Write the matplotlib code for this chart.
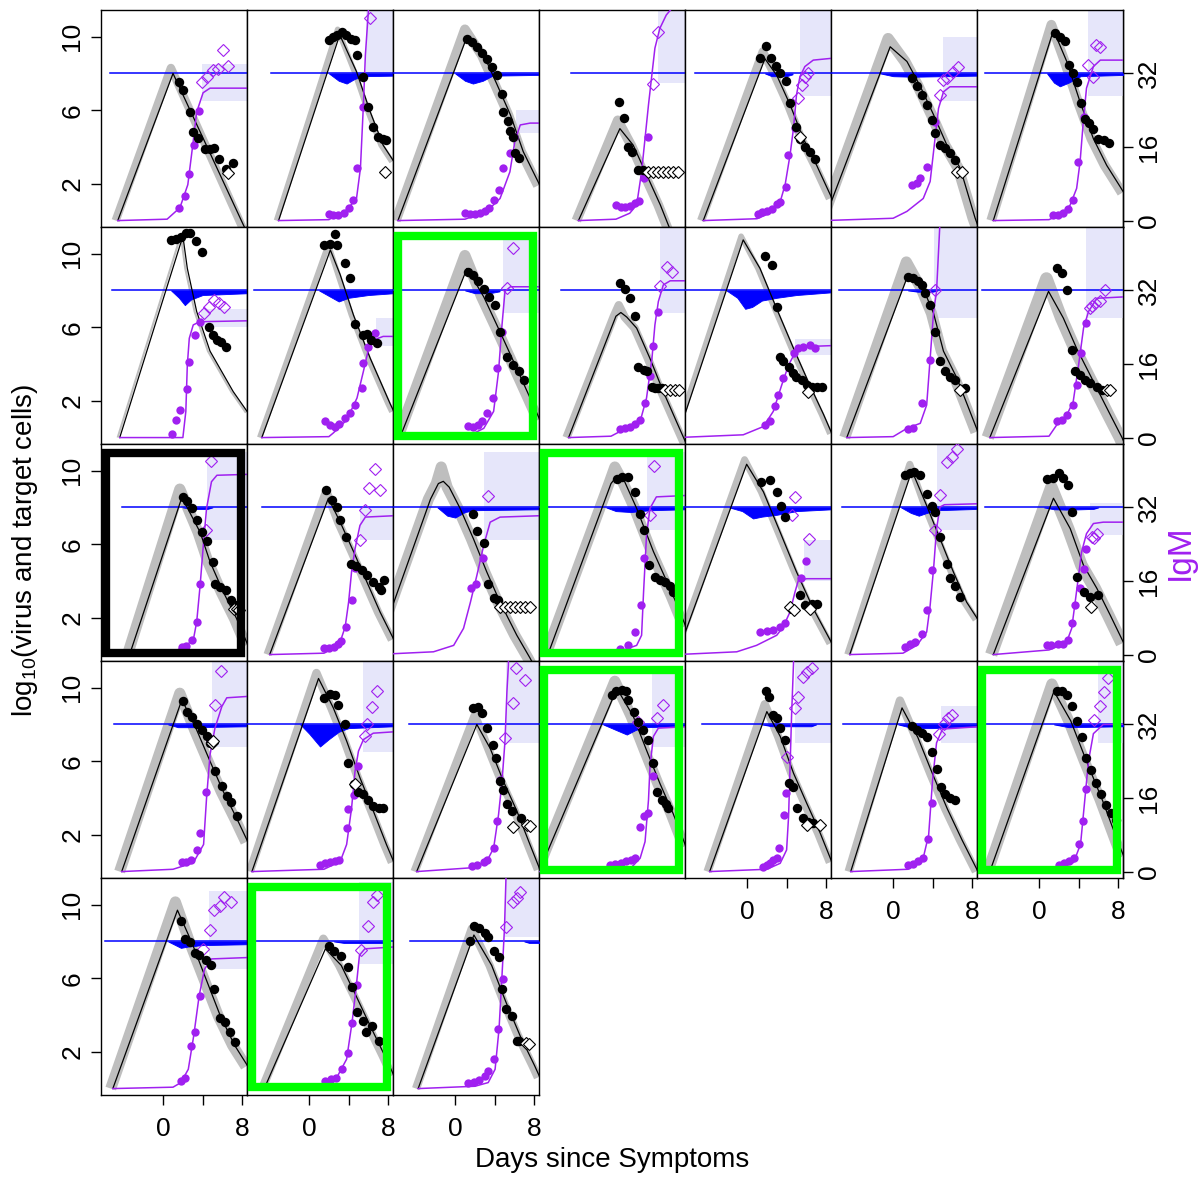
import matplotlib
matplotlib.use("Agg")
import matplotlib.pyplot as plt
import matplotlib.transforms as mtransforms
from matplotlib.patches import Rectangle

plt.rcParams["font.family"] = ["Liberation Sans", "DejaVu Sans"]

# ---------------------------------------------------------------- layout
FIG_W, FIG_H = 1198, 1178
GRID_LEFT, GRID_TOP = 101, 10
PANEL_W, PANEL_H = 146, 217
N_COLS = 7
XLIM = (-6.3, 8.5)
YLIM = (-0.35, 11.45)
IGM_PER_LOG = 4.0          # right axis: IgM units per log10 unit
TARGET_LEVEL = 8.0         # log10 target cells at start

GRAY = "#BEBEBE"
BLUE = "#0000FF"
PURPLE = "#A020F0"
LAVENDER = "#E6E6FA"
GREEN = "#00FF00"

X_TICKS = [0, 4, 8]
X_TICK_LABELS = ["0", "", "8"]
Y_TICKS = [2, 6, 10]
IGM_TICKS = [0, 16, 32]

# ---------------------------------------------------------------- data
# best-fit log10 viral load trajectory (day, log10)
VIRUS_CURVE = [
    [(-4.6, 0), (1.0, 8.0), (8.1, -0.2), (8.8, -1.0)],
    [(-3.1, 0), (3.1, 10.1), (4.8, 8.1), (6.2, 5.9), (7.5, 4.1), (8.6, 3.2)],
    [(-5.8, 0), (1.2, 10.0), (2.9, 9.0), (4.2, 7.45), (5.6, 5.75), (6.9, 3.75), (8.6, 1.9)],
    [(-2.3, 0), (1.9, 5.0), (3.25, 4.1), (4.6, 2.5), (6.0, 0.85), (7.0, -0.5)],
    [(-4.45, 0), (1.8, 8.8), (3.0, 7.9), (4.35, 6.3), (5.7, 4.45), (7.05, 3.0), (8.6, 1.2)],
    [(-7.0, 0), (-0.3, 9.45), (1.4, 8.65), (2.7, 7.35), (4.1, 5.75), (5.45, 4.1), (6.8, 2.85), (8.3, 0.15), (8.8, -0.6)],
    [(-4.65, 0), (1.45, 10.35), (2.8, 8.65), (4.15, 6.45), (5.5, 4.45), (6.85, 3.0), (8.2, 1.85), (8.6, 1.5)],
    [(-4.4, 0), (2.0, 10.95), (2.45, 9.2), (3.4, 6.85), (4.75, 4.7), (7.1, 2.5), (8.6, 1.35)],
    [(-4.8, 0), (2.15, 10.2), (3.15, 8.85), (4.5, 6.65), (6.2, 4.3), (8.2, 1.85), (8.6, 1.4)],
    [(-5.6, 0), (1.2, 9.2), (2.9, 7.65), (4.55, 5.75), (6.25, 3.75), (7.6, 2.15), (8.6, 0.95)],
    [(-3.3, 0), (1.5, 6.6), (2.0, 6.8), (2.6, 6.55), (3.6, 5.95), (4.95, 4.3), (6.3, 2.5), (7.65, 0.85), (8.6, -0.3)],
    [(-7.1, 0), (-0.4, 10.75), (1.3, 9.2), (3.0, 7.0), (4.7, 4.85), (6.35, 2.85), (7.75, 1.25), (8.6, 0.2)],
    [(-4.7, 0), (1.55, 8.9), (3.05, 8.1), (4.1, 6.75), (5.1, 4.7), (6.45, 3.25), (7.8, 1.4), (8.6, 0.3)],
    [(-5.0, 0), (0.95, 7.95), (2.45, 6.5), (3.8, 4.85), (5.5, 3.05), (7.2, 1.25), (8.4, 0), (8.8, -0.5)],
    [(-3.4, 0), (1.9, 8.55), (3.75, 6.65), (4.75, 5.05), (6.1, 3.4), (7.45, 1.95), (8.6, 0.5)],
    [(-4.0, 0), (1.95, 8.5), (3.15, 7.2), (4.5, 5.6), (5.85, 3.95), (7.2, 2.3), (8.6, 0.8)],
    [(-8.1, 0), (-2.5, 8.45), (-1.7, 9.3), (-1.2, 9.42), (-0.6, 9.1), (0.5, 7.95), (1.85, 6.3), (3.2, 4.5), (4.55, 2.85), (6.25, 1.05), (7.6, -0.2), (8.0, -0.6)],
    [(-5.4, 0), (1.0, 9.3), (1.6, 9.7), (2.3, 9.5), (3.6, 7.95), (5.3, 5.6), (7.3, 3.2), (8.6, 1.5)],
    [(-7.1, 0), (-0.05, 10.35), (1.65, 8.85), (3.35, 6.65), (5.0, 4.5), (6.7, 2.5), (8.6, 0.6)],
    [(-4.4, 0), (1.9, 10.0), (3.4, 8.1), (4.75, 6.3), (6.1, 4.5), (7.45, 2.85), (8.6, 1.9)],
    [(-4.65, 0), (1.45, 8.5), (3.15, 6.85), (4.5, 4.85), (5.85, 3.6), (7.2, 2.15), (8.6, 0.6)],
    [(-4.2, 0), (1.9, 9.35), (3.4, 7.7), (4.75, 6.0), (6.1, 4.35), (7.45, 2.9), (8.6, 1.6)],
    [(-5.8, 0), (0.95, 10.5), (2.45, 8.9), (3.8, 7.1), (5.15, 5.1), (6.5, 3.3), (7.85, 1.45), (8.6, 0.5)],
    [(-3.9, 0), (2.2, 8.0), (3.55, 6.7), (4.9, 4.9), (6.25, 3.3), (7.6, 1.45), (8.6, 0.1)],
    [(-6.3, 0), (1.6, 9.95), (3.25, 8.45), (4.6, 6.6), (5.95, 4.8), (7.3, 3.15), (8.6, 1.35)],
    [(-3.8, 0), (2.0, 8.7), (3.35, 7.35), (4.7, 5.35), (6.05, 3.7), (7.4, 2.1), (8.6, 0.5)],
    [(-4.3, 0), (0.9, 8.9), (2.5, 7.3), (4.0, 5.3), (5.5, 3.4), (7.0, 1.7), (8.6, 0.0)],
    [(-5.0, 0), (1.5, 9.8), (3.2, 8.2), (4.8, 6.0), (6.4, 3.9), (8.0, 1.6), (8.6, 0.8)],
    [(-5.1, 0), (1.45, 9.7), (2.9, 7.95), (4.35, 5.95), (5.8, 3.95), (7.25, 2.35), (8.6, 1.2)],
    [(-4.55, 0), (1.65, 7.6), (3.25, 6.7), (4.75, 5.05), (6.2, 3.4), (7.65, 1.8), (8.6, 0.7)],
    [(-3.75, 0), (1.9, 8.35), (3.7, 6.7), (5.15, 4.7), (6.6, 2.85), (8.05, 1.25), (8.6, 0.6)],
]

# top of the posterior viral-load envelope and its spread (points)
GRAY_PEAK = [8.3, 10.4, 10.4, 5.45, 9.2, 9.9, 10.65,
             11.0, 10.5, 9.9, 7.2, 10.95, 9.55, 8.65,
             9.0, 8.9, 10.2, 10.2, 10.6, 10.35, 9.1,
             9.7, 10.8, 8.5, 10.35, 9.1, 9.3, 10.2,
             10.15, 8.15, 8.7]
GRAY_WIDTH = [6, 4, 7, 7, 6, 8, 7,
              1.5, 4, 8, 6, 4, 8, 9,
              8, 6, 8, 8, 5, 5, 9,
              8, 6, 6, 8, 6, 6, 8,
              8, 6, 6]

# observed log10 viral load
VIRUS_DATA = [
    [(1.6, 7.55), (2.05, 7.1), (2.7, 5.9), (3.0, 4.8), (3.5, 4.5), (4.25, 3.9), (4.75, 3.9), (5.15, 3.95), (5.65, 3.35), (6.4, 2.8), (7.1, 3.15)],
    [(2.05, 9.8), (2.45, 10.0), (2.85, 10.1), (3.3, 10.25), (3.75, 10.1), (4.2, 9.9), (4.65, 9.8), (4.85, 9.0), (5.5, 7.8), (6.0, 6.2), (6.5, 5.1), (7.0, 4.55), (7.45, 4.45), (7.8, 4.4)],
    [(1.2, 9.9), (1.7, 9.7), (2.2, 9.45), (2.7, 9.1), (3.2, 8.8), (3.7, 8.35), (4.2, 7.9), (4.7, 6.9), (4.9, 5.9), (5.4, 5.4), (5.55, 4.85), (5.85, 4.55), (6.05, 3.65), (6.5, 3.4)],
    [(1.85, 6.45), (2.3, 5.6), (2.75, 4.0), (3.1, 3.75), (3.75, 2.75), (4.2, 2.75)],
    [(1.3, 8.85), (1.9, 9.5), (2.4, 8.85), (2.95, 8.4), (3.35, 8.0), (3.95, 7.6), (4.3, 6.4), (4.95, 5.1), (5.35, 4.45), (5.85, 4.0), (6.35, 3.75), (6.9, 3.35)],
    [(1.9, 7.75), (2.4, 7.3), (2.9, 6.85), (3.4, 6.3), (3.9, 5.45), (4.25, 4.75), (4.75, 4.1), (5.25, 3.95), (5.75, 3.65), (6.3, 3.3)],
    [(1.6, 10.2), (2.1, 10.0), (2.6, 9.75), (3.05, 8.45), (3.45, 8.0), (3.8, 7.55), (4.2, 6.4), (4.65, 5.55), (5.1, 5.3), (5.5, 5.0), (6.0, 4.45), (6.6, 4.4), (7.1, 4.2)],
    [(0.8, 10.75), (1.3, 10.8), (1.8, 10.9), (2.3, 11.1), (2.75, 11.15), (3.3, 10.7), (3.9, 10.1), (4.6, 6.0), (5.1, 5.6), (5.45, 5.3), (5.85, 5.2), (6.4, 4.95)],
    [(1.5, 10.45), (2.15, 10.55), (2.65, 11.05), (2.85, 10.45), (3.65, 9.5), (4.15, 8.65), (4.65, 6.2), (5.5, 5.6), (5.85, 5.65), (6.25, 5.3), (6.85, 5.15)],
    [(1.35, 9.0), (1.8, 8.85), (2.35, 8.5), (2.9, 8.1), (3.4, 7.65), (4.05, 7.2), (4.55, 5.75), (5.25, 4.4), (5.9, 3.95), (6.45, 3.6), (6.95, 3.15)],
    [(1.95, 8.4), (2.4, 8.1), (2.95, 7.6), (3.45, 6.6), (3.75, 3.85), (4.3, 3.7), (4.6, 3.6), (5.15, 2.75), (5.45, 2.7), (5.8, 2.7), (6.15, 2.7)],
    [(1.8, 9.9), (2.5, 9.4), (3.0, 7.1), (3.35, 4.4), (3.65, 4.15), (4.2, 3.85), (4.6, 3.5), (5.0, 3.3), (5.55, 3.15), (6.05, 2.85), (6.55, 2.75), (7.05, 2.75), (7.55, 2.75)],
    [(1.55, 8.75), (2.05, 8.65), (2.55, 8.5), (2.9, 8.3), (3.25, 7.85), (3.75, 7.2), (4.25, 5.75), (4.75, 4.15), (5.25, 3.6), (5.75, 3.3), (6.3, 3.15), (7.3, 2.7)],
    [(1.8, 9.2), (2.3, 8.95), (2.8, 8.05), (3.3, 4.75), (3.65, 3.6), (4.15, 3.4), (4.65, 3.15), (5.15, 2.95), (5.85, 2.75), (6.35, 2.6)],
    [(2.05, 8.55), (2.45, 8.35), (2.9, 7.95), (3.4, 7.3), (3.9, 6.65), (4.4, 6.2), (5.05, 5.05), (5.25, 3.85), (5.75, 3.7), (6.4, 3.5), (6.85, 2.95), (7.3, 2.7)],
    [(1.7, 8.95), (2.3, 8.4), (2.8, 8.05), (3.15, 7.3), (3.7, 6.4), (4.2, 4.95), (4.75, 4.8), (5.35, 4.6), (5.85, 4.3), (6.45, 3.95), (7.05, 3.7), (7.25, 3.5), (7.55, 4.05)],
    [(1.8, 7.65), (2.25, 6.7), (2.9, 6.05), (3.3, 3.85), (3.9, 3.05), (4.3, 2.95)],
    [(1.6, 9.55), (2.1, 9.65), (2.75, 9.65), (3.45, 8.85), (3.95, 7.65), (4.3, 6.75), (4.9, 4.85), (5.45, 4.2), (5.95, 4.05), (6.5, 3.95), (7.0, 3.75), (7.25, 3.4)],
    [(1.45, 9.4), (2.3, 9.5), (3.0, 8.85), (3.4, 8.1), (3.85, 7.5), (5.35, 3.25), (5.85, 2.7), (6.55, 2.75), (7.05, 2.75)],
    [(1.2, 9.75), (1.7, 9.85), (2.1, 9.95), (2.75, 9.75), (3.4, 8.75), (3.9, 8.1), (4.25, 7.75), (4.75, 6.4), (5.45, 4.95), (5.75, 4.15), (6.3, 3.75), (6.8, 3.15)],
    [(0.75, 9.55), (1.45, 9.6), (2.05, 9.85), (2.45, 9.6), (2.95, 9.2), (3.3, 7.75), (3.8, 4.2), (4.5, 3.4), (5.15, 3.15), (6.0, 3.25)],
    [(2.05, 9.3), (2.45, 8.7), (2.9, 8.4), (3.4, 8.0), (3.9, 7.7), (4.4, 7.35), (4.75, 7.0), (5.25, 5.45), (5.95, 4.65), (6.45, 4.1), (6.85, 3.8), (7.45, 3.0)],
    [(1.5, 9.45), (2.15, 9.65), (2.65, 9.6), (2.95, 9.05), (3.65, 8.0), (3.9, 5.9), (4.55, 4.75), (5.0, 4.35), (5.5, 4.2), (6.0, 3.9), (6.5, 3.55), (7.05, 3.45), (7.45, 3.45)],
    [(1.85, 8.9), (2.35, 8.95), (2.7, 8.6), (3.2, 7.8), (3.8, 6.9), (4.15, 6.2), (4.55, 4.9), (4.9, 4.45), (5.25, 3.65), (5.75, 3.3), (6.65, 2.9)],
    [(1.05, 9.6), (1.5, 9.8), (2.1, 9.85), (2.5, 9.8), (2.75, 9.35), (3.35, 8.7), (3.75, 8.15), (4.2, 7.7), (4.7, 7.15), (5.3, 5.9), (5.65, 4.35), (6.15, 3.9), (6.6, 3.65), (6.8, 3.45)],
    [(1.9, 9.8), (2.25, 9.5), (2.65, 8.5), (3.05, 8.35), (3.35, 7.8), (3.85, 7.15), (4.2, 4.8), (4.65, 4.6), (5.05, 3.45), (5.7, 2.9), (6.2, 2.7), (6.7, 2.65)],
    [(1.9, 7.9), (2.4, 7.7), (2.9, 7.55), (3.4, 7.3), (3.9, 6.5), (4.4, 5.6), (4.9, 4.6), (5.3, 4.2), (5.8, 4.0), (6.3, 3.9)],
    [(1.8, 9.8), (2.3, 9.8), (2.8, 9.6), (3.3, 9.0), (3.8, 8.2), (4.3, 7.3), (4.8, 6.2), (5.3, 5.5), (5.8, 4.8), (6.3, 4.2), (6.8, 3.6), (7.3, 3.2), (7.8, 2.8)],
    [(1.8, 9.1), (2.2, 8.15), (2.75, 7.95), (3.2, 7.35), (3.65, 7.25), (4.3, 7.0), (4.8, 6.7), (5.2, 5.4), (5.8, 3.85), (6.25, 3.6), (6.75, 3.05), (7.25, 2.55)],
    [(2.0, 7.75), (2.55, 7.5), (3.25, 7.2), (3.95, 6.6), (4.35, 5.5), (4.9, 4.15), (5.45, 3.7), (5.8, 3.05), (6.35, 3.4), (7.1, 2.6)],
    [(1.5, 8.05), (1.9, 8.85), (2.45, 8.75), (3.0, 8.45), (3.35, 8.25), (3.9, 7.5), (4.45, 7.15), (4.75, 5.4), (5.15, 4.35), (5.8, 3.95), (6.25, 2.6), (6.5, 2.6)],
]

# viral load samples below the detection limit
VIRUS_CENSORED = [
    [(6.6, 2.6)], [(7.7, 2.65)], [],
    [(4.8, 2.65), (5.3, 2.65), (5.8, 2.65), (6.3, 2.65), (6.8, 2.65), (7.3, 2.65), (7.8, 2.65)],
    [(5.4, 4.55)], [(6.45, 2.65), (6.95, 2.65)], [],
    [], [], [], [(6.5, 2.6), (7.0, 2.6), (7.5, 2.6), (7.85, 2.6)], [(6.2, 2.5)], [(6.8, 2.6)], [(6.85, 2.6), (7.2, 2.6)],
    [(7.15, 2.5), (7.45, 2.5), (7.7, 2.4)], [],
    [(4.55, 2.6), (5.05, 2.6), (5.55, 2.6), (6.1, 2.6), (6.6, 2.6), (7.1, 2.6), (7.6, 2.6)],
    [], [(4.35, 2.6), (4.7, 2.4), (6.35, 2.5)], [], [(5.25, 2.6)],
    [(4.95, 7.0), (5.1, 7.1)], [(4.65, 4.75)], [(5.9, 2.45), (7.25, 2.55), (7.6, 2.5)], [], [(6.05, 2.55), (7.4, 2.55)], [], [],
    [], [], [(7.15, 2.5), (7.5, 2.45)],
]

# envelope of target-cell depletion below the starting level (day, log10)
TARGET_DIP = [
    [], [(2.0, 8), (3.0, 7.6), (3.8, 7.45), (4.6, 7.7), (5.5, 7.85), (8.6, 7.88)],
    [(0, 8), (1.0, 7.6), (1.8, 7.45), (2.8, 7.6), (3.8, 7.88), (8.6, 7.92)], [],
    [(1.8, 8), (2.5, 7.85), (4.0, 7.85), (4.6, 7.95)],
    [(-1.3, 8), (0, 7.85), (2, 7.82), (5, 7.85), (8.6, 7.88)],
    [(0.8, 8), (1.5, 7.5), (2.1, 7.3), (3.0, 7.5), (4.2, 7.85), (8.6, 7.92)],
    [(0.8, 8), (1.6, 7.6), (2.2, 7.2), (2.8, 7.5), (4.0, 7.75), (8.6, 7.85)],
    [(1.0, 8), (2.0, 7.7), (3.0, 7.4), (4.0, 7.6), (6.0, 7.75), (8.6, 7.85)],
    [(1.0, 8), (2.0, 7.85), (3.5, 7.85), (4.5, 7.95)], [],
    [(-2.1, 8), (-1.0, 7.6), (-0.2, 7.0), (0.5, 7.1), (1.5, 7.45), (3.0, 7.6), (5.0, 7.75), (8.6, 7.9)],
    [(1.5, 8), (2.5, 7.93), (4.0, 7.93), (4.5, 8)], [],
    [(2.0, 8), (3.0, 7.92), (4.5, 7.92), (5.0, 8)], [],
    [(-1.8, 8), (-0.8, 7.55), (0, 7.45), (1.0, 7.75), (2.0, 7.85), (8.6, 7.9)],
    [(0.5, 8), (1.5, 7.8), (3.0, 7.75), (5.0, 7.85), (8.6, 7.9)],
    [(-1.8, 8), (-0.5, 7.8), (0.6, 7.4), (1.5, 7.5), (3.0, 7.6), (5.0, 7.8), (8.6, 7.9)],
    [(0.8, 8), (1.8, 7.7), (2.6, 7.55), (3.4, 7.7), (4.5, 7.85), (8.6, 7.92)],
    [(0.5, 8), (1.5, 7.9), (3.0, 7.88), (5.5, 7.92), (6.0, 8)],
    [(0.5, 8), (1.5, 7.85), (3.0, 7.85), (8.6, 7.9)],
    [(-0.9, 8), (0, 7.5), (1.1, 6.8), (2.0, 7.2), (3.0, 7.6), (4.0, 7.8), (8.6, 7.9)], [],
    [(0.2, 8), (1.5, 7.7), (2.6, 7.45), (3.5, 7.7), (4.5, 7.85), (8.6, 7.92)],
    [(1.5, 8), (2.5, 7.9), (6.5, 7.9), (7.0, 8)],
    [(0.5, 8), (2.0, 7.8), (4.0, 7.8), (8.6, 7.9)],
    [(1.5, 8), (3.0, 7.85), (8.6, 7.9)],
    [(0.5, 8), (1.8, 7.65), (2.5, 7.72), (4.0, 7.8), (8.6, 7.85)],
    [(2.5, 8), (3.5, 7.92), (7.5, 7.92), (8.0, 8)],
    [(7.0, 8), (7.5, 7.92), (8.6, 7.92)],
]

# best-fit IgM trajectory (day, IgM)
IGM_CURVE = [
    [(-4.6, 0), (0.4, 0.3), (1.7, 2.8), (2.5, 7.8), (3.0, 16.4), (3.4, 23.6), (4.05, 27.8), (4.75, 28.8), (8.6, 28.8)],
    [(-3.1, 0), (2.0, 0.2), (3.8, 2.3), (4.8, 4.8), (5.2, 11.4), (5.5, 25.2), (5.7, 36), (6.0, 45.4), (6.2, 60)],
    [(-5.8, 0), (1.0, 0.3), (3.2, 2.0), (4.55, 4.8), (5.55, 10.6), (6.05, 17.2), (6.6, 20.8), (7.6, 21.2), (8.6, 21.2)],
    [(-2.3, 0), (1.5, 0.3), (2.9, 1.6), (3.6, 3.4), (4.1, 10.6), (4.45, 17.9), (4.8, 25.2), (5.1, 30.9), (5.45, 37.5), (5.95, 41.8), (6.6, 44.7), (7.3, 46.5), (8.6, 48)],
    [(-4.45, 0), (1.0, 0.4), (2.3, 1.6), (3.35, 4.1), (3.85, 7.8), (4.35, 14.3), (4.7, 20.1), (5.0, 27.3), (5.35, 31.3), (5.85, 33.5), (6.7, 34.9), (8.6, 35.3)],
    [(-7.0, 0), (0.0, 0.5), (1.4, 2.0), (3.05, 4.8), (3.75, 8.5), (4.25, 17.9), (4.6, 24.4), (5.1, 28.0), (5.75, 29.1), (8.6, 29.1)],
    [(-4.65, 0), (1.0, 0.2), (2.45, 1.6), (3.15, 3.4), (3.8, 7.0), (4.15, 12.8), (4.5, 22.2), (4.8, 28.8), (5.5, 33.5), (6.2, 34.9), (8.6, 34.9)],
    [(-4.4, 0), (2.0, 0.0), (2.3, 5.7), (2.45, 15.8), (2.65, 21.6), (3.05, 24.5), (3.7, 25.2), (8.6, 25.4)],
    [(-4.8, 0), (2.0, 0.2), (2.45, 1.0), (3.8, 3.8), (4.85, 8.6), (5.5, 14.4), (6.0, 19.1), (6.5, 21.2), (7.5, 22.0), (8.6, 22.0)],
    [(-5.6, 0), (1.2, 0.2), (2.9, 2.0), (3.9, 5.7), (4.4, 14.4), (4.75, 24.5), (5.05, 31.8), (5.6, 32.8), (8.6, 32.8)],
    [(-3.3, 0), (1.0, 0.3), (2.25, 1.7), (3.95, 3.5), (4.6, 8.6), (5.15, 17.2), (5.45, 24.5), (5.8, 29.6), (6.3, 33.2), (7.0, 34.1), (8.6, 34.1)],
    [(-7.1, 0), (-0.4, 0.6), (1.65, 2.4), (2.65, 5.7), (3.5, 11.4), (4.2, 15.8), (4.85, 18.4), (6.05, 19.8), (8.6, 20.0)],
    [(-4.7, 0), (0.0, 0.2), (1.4, 2.0), (2.75, 3.1), (3.4, 7.1), (3.75, 17.2), (4.1, 27.4), (4.4, 31.8), (4.75, 47), (4.8, 60)],
    [(-5.0, 0), (1.0, 0.3), (1.8, 2.8), (2.8, 4.9), (3.45, 7.8), (4.0, 15.8), (4.5, 23.8), (5.0, 27.4), (5.85, 30.3), (8.6, 30.6)],
    [(-3.4, 0), (1.0, 0.5), (2.05, 1.7), (3.05, 3.1), (3.4, 7.1), (3.75, 15.1), (4.1, 24.5), (4.4, 31.8), (4.9, 37.6), (5.45, 39), (8.6, 39.2)],
    [(-4.0, 0), (1.5, 0.3), (2.45, 1.3), (3.15, 2.8), (3.65, 6.0), (4.0, 11.4), (4.3, 18.0), (4.65, 23.0), (5.15, 28.1), (5.7, 29.9), (8.6, 30.2)],
    [(-8.1, 0), (-2.2, 0.6), (-0.15, 2.0), (0.85, 5.7), (1.55, 11.4), (2.2, 17.2), (2.9, 23.8), (3.55, 28.8), (4.55, 29.9), (8.6, 30.2)],
    [(-5.4, 0), (2.0, 0.8), (3.6, 2.0), (4.1, 4.2), (4.3, 13.6), (4.6, 26.0), (4.95, 31.8), (5.6, 34.3), (8.6, 34.6)],
    [(-7.1, 0), (-1.05, 0.6), (0.95, 2.0), (3.0, 4.2), (3.65, 6.0), (4.35, 9.3), (4.85, 13.6), (5.2, 16.2), (6.05, 16.5), (8.6, 16.5)],
    [(-4.4, 0), (1.0, 0.3), (2.4, 2.0), (3.4, 4.9), (3.75, 10.7), (4.1, 18.7), (4.4, 27.4), (4.75, 32.1), (5.2, 32.6), (8.6, 32.8)],
    [(-4.65, 0), (1.0, 1.0), (1.8, 1.7), (2.8, 2.8), (3.3, 5.7), (3.65, 11.4), (4.0, 17.2), (4.3, 22.3), (4.8, 26.3), (5.5, 28.5), (6.5, 28.8), (8.6, 28.8)],
    [(-4.2, 0), (1.0, 0.5), (3.05, 1.9), (4.1, 5.9), (4.4, 16.0), (4.75, 25.4), (5.25, 31.2), (5.95, 35.9), (6.45, 37.8), (8.6, 38.1)],
    [(-5.8, 0), (1.5, 0.5), (3.15, 2.2), (3.8, 5.9), (4.3, 13.8), (4.65, 21.8), (5.0, 26.2), (5.5, 28.7), (6.5, 30.1), (8.6, 30.4)],
    [(-3.9, 0), (1.5, 0.8), (3.2, 2.2), (3.9, 5.1), (4.4, 12.4), (4.75, 19.6), (5.05, 28.3), (5.25, 39.2), (5.4, 45), (5.5, 60)],
    [(-6.3, 0), (2.8, 0.3), (3.95, 2.9), (4.45, 6.5), (4.8, 15.6), (4.95, 22.8), (5.3, 29.4), (5.8, 31.2), (8.6, 31.5)],
    [(-3.8, 0), (2.0, 0.5), (3.35, 1.8), (4.0, 4.7), (4.2, 12.0), (4.35, 22.8), (4.5, 33.7), (4.7, 45.3), (4.8, 60)],
    [(-4.3, 0), (1.5, 0.5), (3.0, 2.5), (3.6, 8.0), (4.0, 20.0), (4.4, 28.0), (5.0, 31.0), (8.6, 31.5)],
    [(-5.0, 0), (2.0, 0.5), (3.5, 2.0), (4.2, 6.0), (4.6, 15.0), (5.0, 24.0), (5.5, 30.0), (6.5, 32.0), (8.6, 32.0)],
    [(-5.1, 0), (1.0, 0.3), (1.8, 1.3), (2.55, 4.2), (3.1, 11.5), (3.65, 20.2), (4.2, 26.0), (4.9, 28.2), (8.6, 28.5)],
    [(-4.55, 0), (1.6, 0.3), (2.9, 2.8), (3.8, 6.4), (4.35, 14.4), (4.75, 21.7), (5.1, 29.0), (5.65, 30.4), (8.6, 30.8)],
    [(-3.75, 0), (2.0, 0.5), (3.35, 1.3), (4.05, 4.2), (4.45, 13.0), (4.75, 24.6), (5.0, 34.8), (5.15, 45.6), (5.3, 60)],
]

# observed IgM, filled
IGM_DATA = [
    [(1.6, 2.8), (2.2, 5.4), (2.65, 10.2), (3.1, 16.4), (3.65, 23.9)],
    [(2.05, 1.4), (2.45, 1.3), (2.95, 1.3), (3.5, 1.6), (4.0, 2.7), (4.45, 4.5), (4.85, 11.4), (5.5, 24.8)],
    [(1.0, 1.6), (1.5, 1.4), (2.0, 1.4), (2.5, 1.6), (3.0, 2.0), (3.45, 2.7), (3.9, 4.5), (4.4, 6.7), (4.9, 11.4), (5.55, 14.6), (5.95, 18.2)],
    [(1.55, 3.4), (2.0, 3.0), (2.4, 3.0), (2.95, 3.1), (3.45, 3.8), (3.85, 4.3), (4.3, 9.2), (4.8, 18.2)],
    [(1.15, 1.4), (1.55, 1.8), (2.0, 2.1), (2.5, 2.5), (3.0, 3.5), (3.35, 4.1), (3.95, 7.4), (4.1, 14.3), (4.85, 20.2)],
    [(1.9, 7.8), (2.4, 8.1), (2.75, 9.2), (3.4, 11.7), (4.25, 21.5)],
    [(1.45, 1.2), (1.95, 1.3), (2.45, 1.6), (2.95, 2.5), (3.45, 4.5), (3.9, 12.8), (4.5, 22.6)],
    [(0.85, 0.7), (1.3, 3.8), (1.7, 6.0), (2.4, 10.6), (2.65, 16.4), (3.25, 22.3), (3.75, 25.2)],
    [(1.6, 3.5), (2.15, 2.8), (2.65, 2.4), (3.05, 2.9), (3.65, 4.2), (4.1, 5.3), (4.65, 7.1), (5.35, 10.7), (5.5, 16.2), (6.0, 19.8), (6.7, 22.7)],
    [(1.35, 2.6), (1.85, 2.4), (2.35, 2.8), (2.7, 3.5), (3.2, 5.3), (3.8, 8.6), (4.25, 15.1), (4.75, 23.0)],
    [(1.9, 1.9), (2.4, 2.0), (2.95, 2.4), (3.45, 2.9), (3.9, 3.8), (4.45, 7.5), (4.95, 13.3), (5.25, 20.0), (5.8, 27.4)],
    [(1.8, 2.8), (2.3, 3.5), (2.8, 6.8), (3.15, 9.3), (3.65, 12.9), (4.2, 15.1), (4.7, 18.4), (5.2, 19.4), (5.7, 19.8), (6.35, 20.2), (6.9, 19.4)],
    [(1.55, 1.9), (2.05, 2.0), (2.9, 7.5), (3.75, 16.9)],
    [(1.8, 3.6), (2.3, 3.8), (2.8, 4.9), (3.4, 7.1), (3.8, 11.4), (4.2, 18.4), (4.8, 24.9)],
    [(1.9, 1.7), (2.3, 1.9), (2.9, 3.1), (3.4, 7.1), (3.75, 15.4)],
    [(1.5, 1.4), (2.05, 1.4), (2.55, 1.7), (2.95, 2.4), (3.2, 2.9), (3.75, 6.0), (4.3, 11.8), (4.65, 18.9)],
    [(1.6, 14.4), (2.15, 15.4), (2.85, 20.9)],
    [(1.9, 1.3), (2.75, 2.0), (3.45, 4.9), (4.0, 10.7), (4.35, 21.0)],
    [(1.3, 4.8), (2.0, 5.1), (2.65, 5.3), (3.35, 6.0), (3.85, 6.8), (5.45, 16.7), (5.95, 20.3)],
    [(1.2, 1.7), (1.7, 2.2), (2.2, 2.8), (2.9, 4.4), (3.4, 9.6), (3.9, 18.3)],
    [(0.75, 2.0), (1.25, 2.0), (1.95, 2.4), (2.45, 2.4), (2.95, 3.1), (3.3, 6.8), (3.65, 10.7), (4.15, 14.4), (4.5, 18.7), (4.8, 23.0)],
    [(1.9, 2.1), (2.3, 2.1), (2.8, 2.6), (3.4, 4.6), (3.75, 8.4), (4.35, 17.3)],
    [(1.1, 1.5), (1.6, 1.9), (2.15, 2.1), (2.65, 2.2), (3.05, 2.6), (3.8, 9.5), (3.9, 13.5), (4.5, 16.7), (5.0, 22.9)],
    [(1.7, 1.2), (2.2, 1.5), (2.9, 2.1), (3.2, 2.6), (3.9, 5.1), (4.25, 10.9), (4.55, 20.0)],
    [(0.9, 1.5), (1.4, 1.7), (2.0, 1.8), (2.5, 2.2), (3.0, 2.6), (3.45, 2.9), (3.95, 9.8), (4.3, 12.0), (4.7, 12.8), (5.3, 20.7)],
    [(1.65, 1.1), (2.0, 1.5), (2.35, 1.8), (2.65, 2.6), (3.0, 2.9), (3.25, 5.1), (3.7, 12.3), (3.95, 17.0)],
    [(1.5, 1.5), (2.0, 1.7), (2.5, 2.2), (3.0, 3.0), (3.5, 7.0), (3.9, 15.0)],
    [(2.0, 1.5), (2.5, 1.8), (3.0, 2.3), (3.5, 3.0), (4.0, 6.0), (4.4, 11.0), (4.8, 18.0)],
    [(1.8, 1.7), (2.25, 2.4), (2.85, 9.3), (3.2, 12.2), (3.7, 20.2)],
    [(1.65, 1.7), (2.2, 2.0), (2.75, 2.4), (3.35, 4.2), (3.95, 7.7), (4.35, 14.2), (4.85, 22.5)],
    [(1.35, 1.3), (1.9, 1.5), (2.45, 1.9), (3.0, 2.8), (3.35, 3.8), (3.9, 6.4), (4.35, 13.0), (4.8, 23.8)],
]

# IgM samples above the assay's upper limit (open diamonds)
IGM_OPEN = [
    [(3.9, 30.2), (4.45, 31.2), (5.05, 32.8), (5.55, 33.0), (6.6, 33.6), (6.1, 37.1)],
    [(6.2, 44)], [], [(5.3, 29.8), (5.8, 41.1)],
    [(5.2, 26.6), (5.55, 29.5), (5.85, 31.3), (6.2, 32.0)],
    [(4.75, 27.3), (5.1, 30.6), (5.45, 31.0), (6.1, 32.4), (6.6, 33.5)],
    [(5.0, 33.8), (5.5, 31.3), (5.75, 38.2), (6.15, 37.8)],
    [(4.1, 27.2), (4.6, 28.5), (5.2, 29.9), (5.7, 29.2), (6.2, 28.5)],
    [], [(5.25, 32.5), (5.9, 41.2)], [(5.95, 33.0), (6.65, 37.2), (7.15, 36.0)], [],
    [(4.25, 32.1)], [(5.15, 28.1), (5.4, 28.7), (5.65, 29.2), (6.15, 29.6), (6.7, 32.1)],
    [(4.35, 27.2), (4.9, 42.2)],
    [(6.7, 40.4), (6.1, 36.2), (7.2, 35.7), (5.7, 31.4), (5.15, 24.9)],
    [(3.3, 34.5)], [(4.95, 30.3), (5.35, 41.0)],
    [(4.85, 34.3), (4.5, 30.3), (6.3, 25.2)],
    [(4.75, 34.6), (5.45, 41.9), (5.95, 43.0), (6.45, 44.8), (4.25, 27.0)],
    [(5.35, 25.6), (5.85, 26.3), (5.6, 25.4)],
    [(5.25, 36.3), (5.85, 43.7), (5.0, 28.3)],
    [(5.7, 29.4), (5.85, 32.1), (6.35, 35.9), (6.85, 39.2)],
    [(5.05, 29.0), (5.85, 36.7), (6.2, 44.3), (7.1, 41.7)],
    [(3.75, 32.6), (5.65, 33.3), (6.3, 36.3)],
    [(4.0, 25.0), (4.85, 35.5), (5.2, 38.0), (5.7, 42.4), (6.05, 43.5), (6.55, 44.2)],
    [(4.6, 30.0), (5.2, 32.0), (5.6, 33.5), (6.0, 34.0)],
    [(5.6, 33.0), (6.2, 36.0), (6.6, 39.0), (7.0, 42.0)],
    [(4.05, 30.4), (4.75, 34.4), (5.15, 38.8), (5.8, 39.8), (6.2, 41.7), (6.85, 40.6)],
    [(5.25, 30.2), (5.95, 35.3), (6.45, 40.6), (6.9, 42.0)],
    [(5.15, 35.1), (5.9, 40.6), (6.25, 41.5), (6.6, 42.8)],
]

# posterior IgM plateau envelope: (first day, lower IgM, upper IgM)
IGM_BAND = [
    (3.9, 26, 34), (5.8, 32, 47), (6.2, 19, 24), (5.8, 30, 47), (5.4, 27, 46), (5.1, 26, 40), (5.0, 27, 46),
    (3.8, 24, 28), (6.8, 20, 26), (4.8, 27, 43), (6.0, 27, 46), (4.8, 18, 21.5), (4.1, 26, 47), (4.8, 26, 46),
    (4.4, 25, 44), (5.2, 25, 32), (2.9, 25, 44), (4.6, 27, 44), (5.8, 16, 25), (4.4, 27, 47), (5.2, 26, 33),
    (5.0, 27, 46), (5.5, 26, 46), (5.2, 28, 47), (5.2, 27, 44), (4.85, 28, 47), (4.8, 28, 36), (6.0, 28, 46),
    (4.6, 26, 43), (5.1, 27, 45), (5.1, 33, 47),
]

# highlighted subjects: panel index -> frame colour
HIGHLIGHT = {9: GREEN, 14: "black", 17: GREEN, 24: GREEN, 27: GREEN, 29: GREEN}

N_PANELS = len(VIRUS_CURVE)
X_AXIS_PANELS = {28, 29, 30, 25, 26, 27}
RIGHT_AXIS_PANELS = {6, 13, 20, 27}


def xs(points):
    return [p[0] for p in points]


def ys(points):
    return [p[1] for p in points]


fig = plt.figure(figsize=(FIG_W / 100, FIG_H / 100), dpi=100)
# the posterior envelope leans slightly toward earlier days
envelope_shift = mtransforms.ScaledTranslation(-1.5 / 72, 0, fig.dpi_scale_trans)

for i in range(N_PANELS):
    row, col = divmod(i, N_COLS)
    left = GRID_LEFT + PANEL_W * col
    top = GRID_TOP + PANEL_H * row
    ax = fig.add_axes([left / FIG_W, 1 - (top + PANEL_H) / FIG_H,
                       PANEL_W / FIG_W, PANEL_H / FIG_H])
    ax.set_xlim(*XLIM)
    ax.set_ylim(*YLIM)
    igm_tr = mtransforms.Affine2D().scale(1.0, 1.0 / IGM_PER_LOG) + ax.transData

    # posterior IgM plateau envelope
    x0, lo, hi = IGM_BAND[i]
    ax.fill_between([x0, XLIM[1] + 1], [lo, lo], [hi, hi], color=LAVENDER,
                    lw=0, transform=igm_tr, zorder=1)

    # posterior viral-load envelope
    curve = VIRUS_CURVE[i]
    cx, cy = xs(curve), ys(curve)
    k = cy.index(max(cy))
    gy = list(cy)
    gy[k] = GRAY_PEAK[i]
    ax.plot(cx, gy, color=GRAY, lw=GRAY_WIDTH[i], solid_joinstyle="round",
            solid_capstyle="butt", transform=ax.transData + envelope_shift,
            zorder=2)

    # target cells
    ax.plot([cx[0] - 0.8, XLIM[1] + 1], [TARGET_LEVEL, TARGET_LEVEL],
            color=BLUE, lw=1.1, zorder=3)
    dip = TARGET_DIP[i]
    if dip:
        ax.fill_between(xs(dip), TARGET_LEVEL, ys(dip), color=BLUE, lw=0.6,
                        edgecolor=BLUE, zorder=3)

    # best-fit viral load
    ax.plot(cx, cy, color="black", lw=0.9, zorder=4)

    # IgM fit and data
    icurve = IGM_CURVE[i]
    ax.plot(xs(icurve), ys(icurve), color=PURPLE, lw=1.1, transform=igm_tr, zorder=5)
    idata = IGM_DATA[i]
    if idata:
        ax.plot(xs(idata), ys(idata), "o", color=PURPLE, ms=6, mew=0,
                transform=igm_tr, zorder=6)
    iopen = IGM_OPEN[i]
    if iopen:
        ax.plot(xs(iopen), ys(iopen), "D", mfc="none", mec=PURPLE, ms=6.5,
                mew=0.8, transform=igm_tr, zorder=6)

    # viral load data
    vdata = VIRUS_DATA[i]
    ax.plot(xs(vdata), ys(vdata), "o", color="black", ms=6.8, mew=0, zorder=7)
    vcens = VIRUS_CENSORED[i]
    if vcens:
        ax.plot(xs(vcens), ys(vcens), "D", mfc="white", mec="black", ms=6.3,
                mew=0.8, zorder=7)

    for sp in ax.spines.values():
        sp.set_linewidth(1.0)

    # axes decorations
    ax.set_xticks([])
    ax.set_yticks([])
    if col == 0:
        ax.set_yticks(Y_TICKS)
        ax.set_yticklabels([str(t) for t in Y_TICKS], rotation=90, va="center")
        ax.tick_params(axis="y", direction="out", length=7, width=1.0,
                       labelsize=19, pad=5)
    if i in X_AXIS_PANELS:
        ax.set_xticks(X_TICKS)
        ax.set_xticklabels(X_TICK_LABELS)
        ax.tick_params(axis="x", direction="out", length=7, width=1.0,
                       labelsize=19, pad=9)
    if i in RIGHT_AXIS_PANELS:
        sec = ax.secondary_yaxis("right", functions=(lambda v: v * IGM_PER_LOG,
                                                     lambda v: v / IGM_PER_LOG))
        sec.set_yticks(IGM_TICKS)
        sec.set_yticklabels([str(t) for t in IGM_TICKS], rotation=90, va="center")
        sec.tick_params(direction="out", length=7, width=1.0, labelsize=19, pad=3)
        sec.spines["right"].set_linewidth(1.0)

    if i in HIGHLIGHT:
        w_px, h_px = PANEL_W, PANEL_H
        rect = Rectangle((5 / w_px, 8 / h_px), 1 - 11 / w_px, 1 - 17 / h_px,
                         transform=ax.transAxes, fill=False,
                         edgecolor=HIGHLIGHT[i], lw=6, zorder=10, clip_on=False)
        ax.add_patch(rect)

fig.text(612 / FIG_W, 1 - 1160 / FIG_H, "Days since Symptoms", ha="center",
         va="center", fontsize=20)
fig.text(25 / FIG_W, 1 - 550 / FIG_H,
         r"log$_{\mathregular{10}}$(virus and target cells)", ha="center",
         va="center", rotation=90, fontsize=20)
fig.text(1180 / FIG_W, 1 - 552 / FIG_H, "IgM", ha="center", va="center",
         rotation=90, fontsize=24, color=PURPLE)

fig.savefig("out.png", dpi=100)
